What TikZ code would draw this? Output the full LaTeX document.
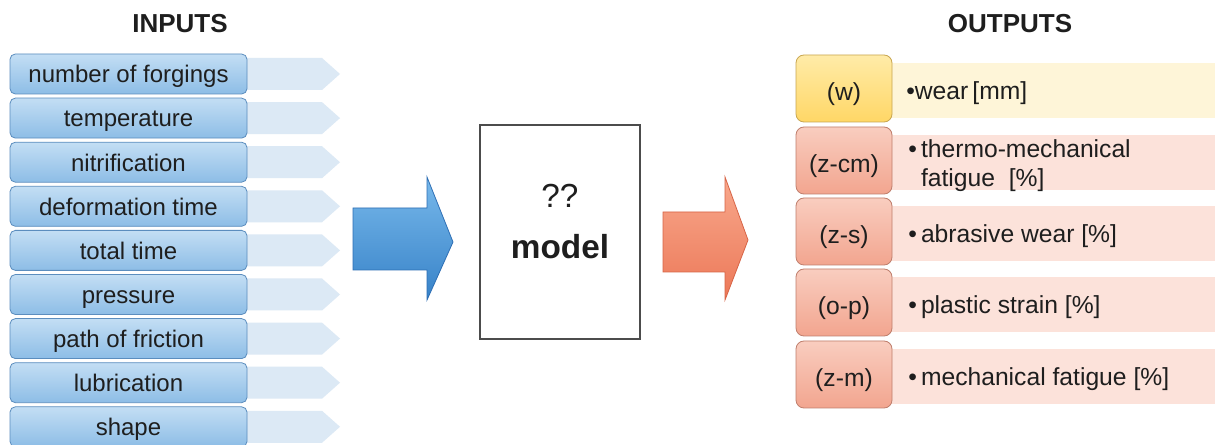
\documentclass[tikz,border=0pt]{standalone}
\usepackage{fontspec}
\setmainfont{Liberation Sans}
\definecolor{intop}{HTML}{C3DEF4}
\definecolor{inbot}{HTML}{8DBDE6}
\definecolor{inborder}{HTML}{5B8DBE}
\definecolor{chev}{HTML}{DCE9F5}
\definecolor{ytop}{HTML}{FFEBA8}
\definecolor{ybot}{HTML}{FFD766}
\definecolor{yborder}{HTML}{C8A650}
\definecolor{yband}{HTML}{FEF5D8}
\definecolor{rtop}{HTML}{F9CDBF}
\definecolor{rbot}{HTML}{F2A58F}
\definecolor{rborder}{HTML}{BF7E6C}
\definecolor{rband}{HTML}{FCE2DA}
\definecolor{txt}{HTML}{1E1E1E}
\definecolor{bluetop}{RGB}{120,185,235}
\definecolor{bluebot}{RGB}{55,130,200}
\definecolor{blueedge}{RGB}{45,110,180}
\definecolor{redtop}{RGB}{248,168,140}
\definecolor{redbot}{RGB}{236,120,88}
\definecolor{rededge}{RGB}{215,100,70}
\begin{document}
\begin{tikzpicture}[x=0.75pt,y=-0.75pt,
  every node/.style={text=txt},
  txtfont/.style={font=\fontsize{18}{21}\selectfont},
  outfont/.style={font=\fontsize{18.5}{22}\selectfont},
  title/.style={font=\fontsize{19.5}{22}\selectfont\bfseries},
  inbox/.style={txtfont, draw=inborder, line width=0.6pt, rounded corners=4pt,
    top color=intop, bottom color=inbot, minimum width=177.75pt, minimum height=30pt, inner sep=0pt,
    text height=16pt, text depth=2.7pt},
  chevron/.style={fill=chev, draw=none},
  outlab/.style={outfont, line width=0.6pt, rounded corners=6pt, minimum width=72pt, minimum height=50.25pt, inner sep=0pt,
    text height=20pt, text depth=1.5pt},
  ylab/.style={outlab, draw=yborder, top color=ytop, bottom color=ybot},
  rlab/.style={outlab, draw=rborder, top color=rtop, bottom color=rbot},
  outtxt/.style={outfont, anchor=west, align=left, inner sep=0pt},
  modelbox/.style={draw=black!70, line width=1.2pt, fill=white, minimum width=120pt, minimum height=160.5pt, inner sep=0pt},
  modeltxt/.style={font=\fontsize{25}{28}\selectfont\bfseries}
]
\useasboundingbox[fill=white] (0,0) rectangle (1215,445);

% titles
\node[title] (tin) at (180,24) {INPUTS};
\node[title] (tout) at (1010,24) {OUTPUTS};

% input chevrons and boxes
\foreach \i/\t in {0/number of forgings,1/temperature,2/nitrification,3/deformation time,4/total time,5/pressure,6/path of friction,7/lubrication,8/shape}{
  \pgfmathsetmacro{\c}{74+44.1*\i}
  \fill[chevron] (230,\c-16) -- (322,\c-16) -- (340,\c) -- (322,\c+16) -- (230,\c+16) -- cycle;
  \node[inbox] (in\i) at (128.5,\c) {\t};
}

% big blue arrow
\path[top color=bluetop, bottom color=bluebot, draw=blueedge, line width=0.6pt]
  (353,208) -- (427,208) -- (427,177) -- (453,242) -- (427,300) -- (427,270) -- (353,270) -- cycle;

% model box
\node[modelbox] (model) at (560,232) {};
\node[modeltxt, font=\fontsize{25}{28}\selectfont] (qq) at (560,196) {??};
\node[modeltxt] (mdl) at (560,247) {model};

% big red arrow
\path[top color=redtop, bottom color=redbot, draw=rededge, line width=0.6pt]
  (663,212) -- (725,212) -- (725,177) -- (748,240) -- (725,300) -- (725,272) -- (663,272) -- cycle;

% outputs
\fill[yband] (892,63) rectangle (1215,118);
\node[ylab] (o0) at (844,88.5) {(w)};
\node[outtxt] (t0) at (906,93) {\textbullet wear\,[mm]};

\foreach \i/\top/\lab/\t in {1/127/(z-cm)/{\textbullet\,thermo-mechanical\\\hphantom{\textbullet\,}fatigue\ \ [\%]},
    2/198/(z-s)/{\textbullet\,abrasive wear [\%]},
    3/269/(o-p)/{\textbullet\,plastic strain [\%]},
    4/341/(z-m)/{\textbullet\,mechanical fatigue\ [\%]}}{
  \fill[rband] (892,\top+8) rectangle (1215,\top+63);
  \node[rlab] (o\i) at (844,\top+33.5) {\lab};
  \node[outtxt] (t\i) at (908,\top+38.5) {\t};
}
\end{tikzpicture}
\end{document}
